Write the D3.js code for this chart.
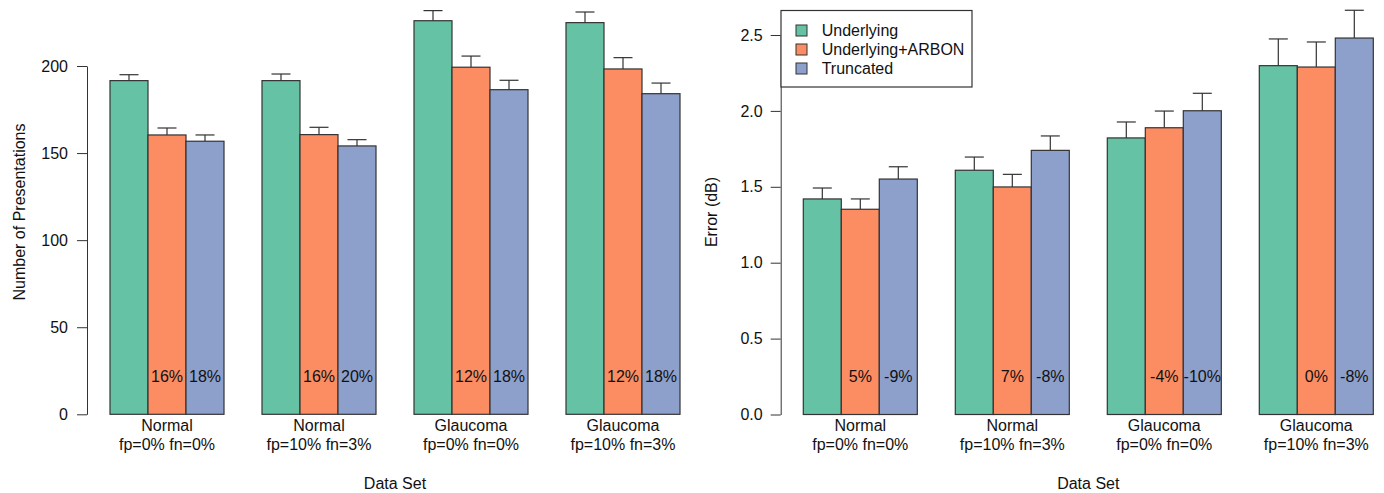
<!DOCTYPE html>
<html>
<head>
<meta charset="utf-8">
<script src="https://cdn.jsdelivr.net/npm/d3@7"></script>
<style>
  html, body { margin: 0; padding: 0; background: #fff; }
  svg { display: block; }
  text { font-family: "Liberation Sans", Arial, Helvetica, sans-serif; fill: #111; }
</style>
</head>
<body>
<svg id="chart" width="1384" height="493"></svg>
<script>
// ---------- data ----------
const groupNames = ["Normal", "Normal", "Glaucoma", "Glaucoma"];
const groupConditions = ["fp=0% fn=0%", "fp=10% fn=3%", "fp=0% fn=0%", "fp=10% fn=3%"];
const seriesNames = ["Underlying", "Underlying+ARBON", "Truncated"];
const seriesColors = ["#66C2A5", "#FC8D62", "#8DA0CB"];

// Left panel: number of presentations (mean and upper error bar end)
const presentationsMean = [
  [191.6, 160.4, 156.8],
  [191.6, 160.6, 154.1],
  [226.0, 199.3, 186.4],
  [224.9, 198.3, 184.1]
];
const presentationsUpper = [
  [195.0, 164.4, 160.4],
  [195.4, 164.8, 157.7],
  [231.8, 205.7, 191.8],
  [231.0, 204.8, 190.2]
];
const presentationsPct = [
  ["16%", "18%"],
  ["16%", "20%"],
  ["12%", "18%"],
  ["12%", "18%"]
];
const presentationsTicks = [0, 50, 100, 150, 200];

// Right panel: error (dB)
const errorMean = [
  [1.42, 1.352, 1.551],
  [1.609, 1.499, 1.740],
  [1.822, 1.889, 2.001],
  [2.298, 2.289, 2.480]
];
const errorUpper = [
  [1.492, 1.42, 1.632],
  [1.696, 1.582, 1.835],
  [1.927, 1.999, 2.116],
  [2.474, 2.454, 2.663]
];
const errorPct = [
  ["5%", "-9%"],
  ["7%", "-8%"],
  ["-4%", "-10%"],
  ["0%", "-8%"]
];
const errorTicks = [0, 0.5, 1.0, 1.5, 2.0, 2.5];

// ---------- drawing ----------
const svg = d3.select("#chart");
const FONT = 16;
const LINE = "#333";

function panel(opts) {
  const g = svg.append("g");
  // x in "bar units" as R barplot(beside=TRUE, space=c(0,1))
  const x = d3.scaleLinear().domain([1, 16]).range(opts.xRange);
  const y = d3.scaleLinear().domain(opts.yDomain).range(opts.yRange);
  const unit = x(2) - x(1);

  // y axis
  const axis = d3.axisLeft(y)
    .tickValues(opts.ticks)
    .tickFormat(opts.fmt)
    .tickSize(10)
    .tickSizeOuter(0)
    .tickPadding(opts.pad);
  const ax = g.append("g").attr("transform", `translate(${opts.axisX},0)`).call(axis);
  ax.select(".domain").attr("stroke", LINE);
  ax.selectAll(".tick line").attr("stroke", LINE);
  ax.selectAll(".tick text")
    .attr("font-size", FONT)
    .attr("font-family", '"Liberation Sans", Arial, sans-serif')
    .attr("fill", "#111");

  const cells = [];
  opts.means.forEach((row, gi) => row.forEach((v, si) => {
    cells.push({ gi, si, v, up: opts.upper[gi][si], u: 1 + gi * 4 + si });
  }));

  // error bars
  const eb = g.append("g");
  cells.forEach(c => {
    const cx = x(c.u) + unit / 2;
    eb.append("line").attr("x1", cx).attr("x2", cx)
      .attr("y1", y(c.v)).attr("y2", y(c.up)).attr("stroke", LINE).attr("stroke-width", 1.2);
    eb.append("line").attr("x1", cx - unit / 4).attr("x2", cx + unit / 4)
      .attr("y1", y(c.up)).attr("y2", y(c.up)).attr("stroke", LINE).attr("stroke-width", 1.2);
  });

  // bars
  g.append("g").selectAll("rect").data(cells).join("rect")
    .attr("x", d => x(d.u))
    .attr("y", d => y(d.v))
    .attr("width", unit)
    .attr("height", d => y(0) - y(d.v))
    .attr("fill", d => seriesColors[d.si])
    .attr("stroke", LINE)
    .attr("stroke-width", 1.2);

  // percentage labels inside series 2 & 3
  opts.pct.forEach((row, gi) => row.forEach((lab, k) => {
    const u = 1 + gi * 4 + k + 1;
    g.append("text")
      .attr("x", x(u) + unit / 2)
      .attr("y", y(opts.labelY))
      .attr("dy", "0.35em")
      .attr("text-anchor", "middle")
      .attr("font-size", FONT)
      .text(lab);
  }));

  // group labels
  groupNames.forEach((name, gi) => {
    const cx = x(1 + gi * 4) + unit * 1.5;
    const t = g.append("text").attr("text-anchor", "middle").attr("font-size", FONT);
    t.append("tspan").attr("x", cx).attr("y", 425).attr("dy", "0.35em").text(name);
    t.append("tspan").attr("x", cx).attr("y", 444).attr("dy", "0.35em").text(groupConditions[gi]);
  });

  // x title
  const xc = (x(1) + x(16)) / 2;
  g.append("text").attr("x", xc).attr("y", 483).attr("dy", "0.35em")
    .attr("text-anchor", "middle").attr("font-size", FONT).text("Data Set");

  // y title
  g.append("text")
    .attr("transform", `translate(${opts.yTitleX},212) rotate(-90)`)
    .attr("dy", "0.35em")
    .attr("text-anchor", "middle").attr("font-size", FONT).text(opts.yTitle);

  return { g, x, y };
}

panel({
  xRange: [110, 680],
  yDomain: [0, 200],
  yRange: [414.3, 66],
  axisX: 87,
  pad: 9,
  ticks: presentationsTicks,
  fmt: d3.format("d"),
  means: presentationsMean,
  upper: presentationsUpper,
  pct: presentationsPct,
  labelY: 22,
  yTitle: "Number of Presentations",
  yTitleX: 19
});

panel({
  xRange: [803.3, 1373.3],
  yDomain: [0, 2.5],
  yRange: [414.5, 35],
  axisX: 780.7,
  pad: 8,
  ticks: errorTicks,
  fmt: d3.format(".1f"),
  means: errorMean,
  upper: errorUpper,
  pct: errorPct,
  labelY: 0.254,
  yTitle: "Error (dB)",
  yTitleX: 711
});

// legend
const leg = svg.append("g");
leg.append("rect").attr("x", 781).attr("y", 10.5).attr("width", 191).attr("height", 76.5)
  .attr("fill", "#fff").attr("stroke", LINE).attr("stroke-width", 1.2);
const legY = d3.scaleLinear().domain([0, 2]).range([30.5, 68.5]);
seriesNames.forEach((name, i) => {
  leg.append("rect").attr("x", 796).attr("y", legY(i) - 5.5).attr("width", 11).attr("height", 11)
    .attr("fill", seriesColors[i]).attr("stroke", LINE).attr("stroke-width", 1);
  leg.append("text").attr("x", 821.7).attr("y", legY(i)).attr("dy", "0.35em")
    .attr("font-size", FONT).text(name);
});
</script>
</body>
</html>
